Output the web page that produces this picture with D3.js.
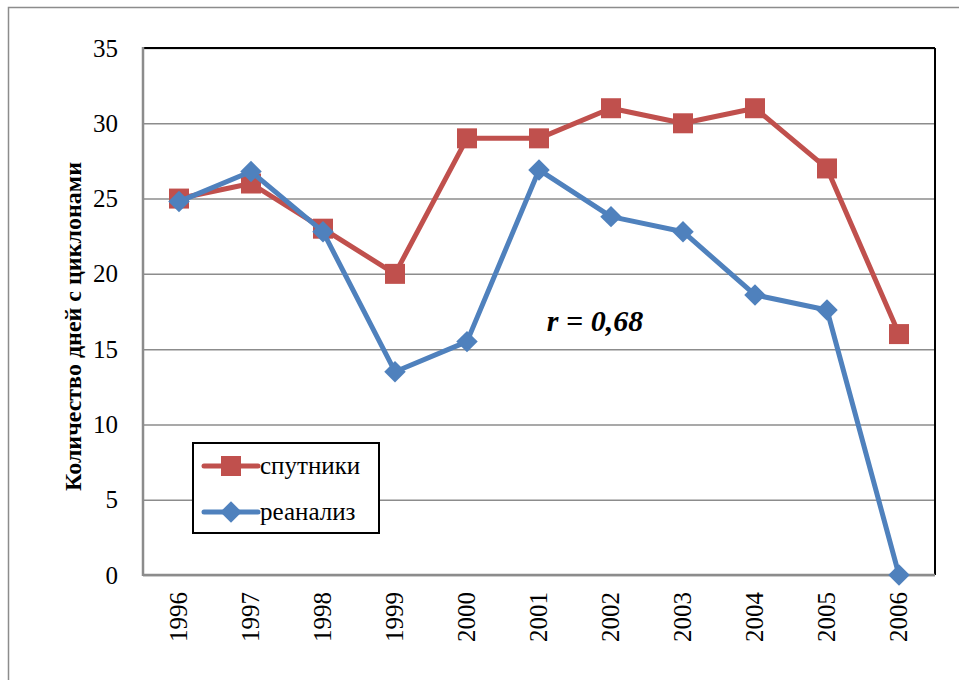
<!DOCTYPE html>
<html>
<head>
<meta charset="utf-8">
<script src="https://cdn.jsdelivr.net/npm/d3@7"></script>
</head>
<body style="margin:0">
<svg id="chart" width="959" height="680" font-family="Liberation Serif"></svg>
<script>
// Data
const years = ['1996', '1997', '1998', '1999', '2000', '2001', '2002', '2003', '2004', '2005', '2006'];
const sputniki = [25, 26, 23, 20, 29, 29, 31, 30, 31, 27, 16];
const reanaliz = [24.8, 26.8, 22.8, 13.5, 15.5, 26.9, 23.8, 22.8, 18.6, 17.6, 0];
const yTicks = [0, 5, 10, 15, 20, 25, 30, 35];
const seriesNames = ['спутники', 'реанализ'];
const yLabelText = 'Количество дней с циклонами';
const rText = 'r = 0,68';

const serifFont = 'Liberation Serif';

const svg = d3.select('#chart');
const width = +svg.attr('width');
const height = +svg.attr('height');

const margin = { top: 48, right: 24, bottom: 105, left: 143 };
const innerWidth = width - margin.left - margin.right;
const innerHeight = height - margin.top - margin.bottom;

// outer chart frame (runs off the bottom/right of the picture)
svg.append('rect')
  .attr('x', 8.5).attr('y', 7.5)
  .attr('width', 1000).attr('height', 1000)
  .attr('fill', 'none').attr('stroke', '#8c8c8c').attr('stroke-width', 1.5);

const xScale = d3.scaleBand().domain(years).range([0, innerWidth]);
const yScale = d3.scaleLinear().domain([0, 35]).range([innerHeight, 0]);
const xPos = d => xScale(d) + xScale.bandwidth() / 2;

const g = svg.append('g').attr('transform', `translate(${margin.left},${margin.top})`);

// gridlines + y tick labels
const yAxisG = g.append('g')
  .call(d3.axisLeft(yScale).tickValues(yTicks).tickSize(-innerWidth).tickPadding(25).tickFormat(d3.format('d')))
  .attr('font-family', serifFont).attr('font-size', 25);
yAxisG.select('.domain').remove();
yAxisG.selectAll('.tick line').attr('stroke', '#8c8c8c').attr('stroke-width', 1.5);
yAxisG.selectAll('.tick text').attr('fill', '#000');

// plot border: top/right black, left/bottom grey axis lines
g.append('line').attr('x1', 0).attr('x2', innerWidth).attr('y1', 0).attr('y2', 0)
  .attr('stroke', '#000').attr('stroke-width', 2);
g.append('line').attr('x1', innerWidth).attr('x2', innerWidth).attr('y1', 0).attr('y2', innerHeight)
  .attr('stroke', '#000').attr('stroke-width', 2);
g.append('line').attr('x1', 0).attr('x2', 0).attr('y1', -1).attr('y2', innerHeight + 1)
  .attr('stroke', '#8c8c8c').attr('stroke-width', 2.5);
g.append('line').attr('x1', 0).attr('x2', innerWidth).attr('y1', innerHeight).attr('y2', innerHeight)
  .attr('stroke', '#8c8c8c').attr('stroke-width', 2.5);

// x axis labels, rotated
const xAxisG = g.append('g')
  .attr('transform', `translate(0,${innerHeight})`)
  .call(d3.axisBottom(xScale).tickSize(0).tickPadding(0))
  .attr('font-family', serifFont).attr('font-size', 25);
xAxisG.select('.domain').remove();
xAxisG.selectAll('.tick text')
  .attr('fill', '#000')
  .attr('transform', 'rotate(-90)')
  .attr('x', -17).attr('y', 0).attr('dy', '0.33em')
  .attr('text-anchor', 'end');

// y axis title
svg.append('text')
  .attr('transform', `translate(81,${margin.top + innerHeight / 2 + 15}) rotate(-90)`)
  .attr('text-anchor', 'middle')
  .attr('font-family', serifFont).attr('font-size', 24).attr('font-weight', 'bold')
  .text(yLabelText);

const colors = ['#C0504D', '#4F81BD'];
const series = [sputniki, reanaliz];

const line = d3.line().x((d, i) => xPos(years[i])).y(d => yScale(d));

const squareSym = d3.symbol().type(d3.symbolSquare).size(400);
const diamondSym = d3.symbol().type(d3.symbolSquare).size(230);

series.forEach((vals, s) => {
  g.append('path').datum(vals)
    .attr('d', line)
    .attr('fill', 'none').attr('stroke', colors[s])
    .attr('stroke-width', 5).attr('stroke-linejoin', 'round');
  g.selectAll(`.m${s}`).data(vals).enter().append('path')
    .attr('class', `m${s}`)
    .attr('transform', (d, i) => `translate(${xPos(years[i])},${yScale(d)})` + (s === 1 ? ' rotate(45)' : ''))
    .attr('d', s === 0 ? squareSym : diamondSym)
    .attr('fill', colors[s]);
});

// correlation note
g.append('text')
  .attr('x', xPos('2000') + 128).attr('y', yScale(16.2))
  .attr('text-anchor', 'middle')
  .attr('font-family', serifFont).attr('font-size', 30)
  .attr('font-weight', 'bold').attr('font-style', 'italic')
  .text(rText);

// legend
const lg = svg.append('g').attr('transform', 'translate(193,443)');
lg.append('rect').attr('width', 186).attr('height', 90)
  .attr('fill', '#fff').attr('stroke', '#000').attr('stroke-width', 2);
seriesNames.forEach((name, s) => {
  const yy = 23 + s * 46;
  lg.append('line').attr('x1', 11).attr('x2', 65).attr('y1', yy).attr('y2', yy)
    .attr('stroke', colors[s]).attr('stroke-width', 5).attr('stroke-linecap', 'round');
  lg.append('path')
    .attr('transform', `translate(38,${yy})` + (s === 1 ? ' rotate(45)' : ''))
    .attr('d', s === 0 ? squareSym : diamondSym)
    .attr('fill', colors[s]);
  lg.append('text').attr('x', 67).attr('y', yy).attr('dy', '0.33em')
    .attr('font-family', serifFont).attr('font-size', 25).text(name);
});
</script>
</body>
</html>
